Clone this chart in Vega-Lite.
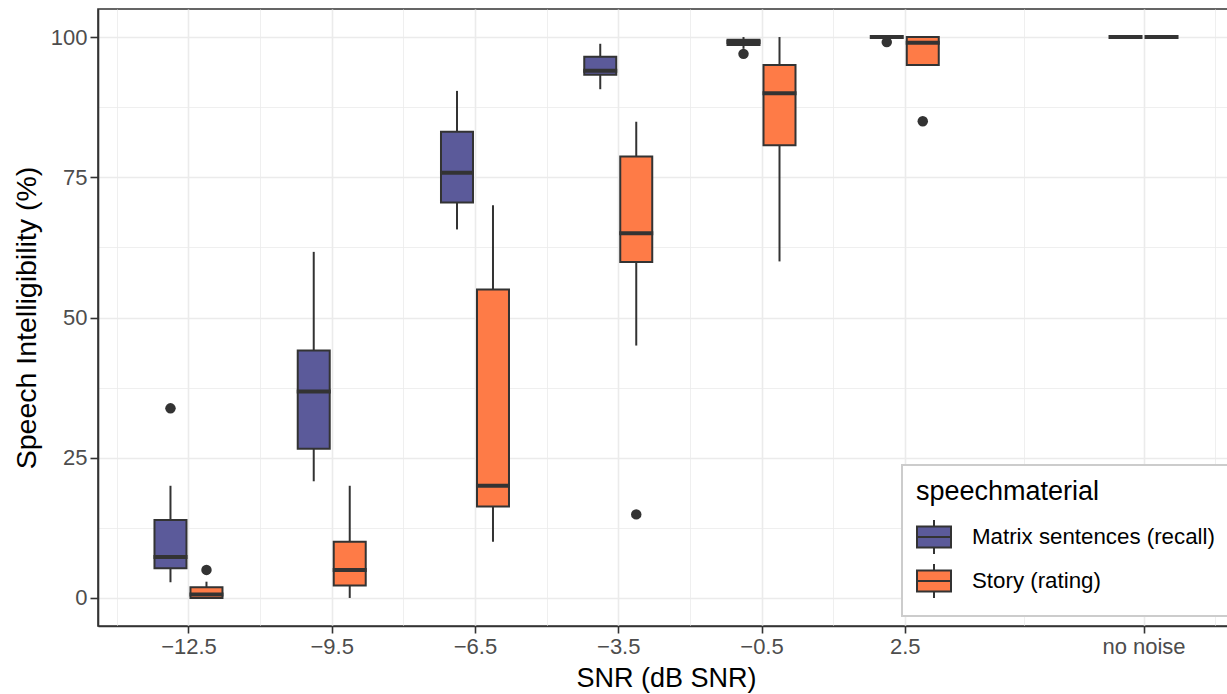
{
  "$schema": "https://vega.github.io/schema/vega-lite/v6.json",
  "width": 1136,
  "height": 617,
  "autosize": {"type": "none"},
  "padding": {"left": 98, "top": 9, "right": -7, "bottom": 68},
  "background": "white",
  "config": {
    "font": "Liberation Sans",
    "view": {"stroke": "#333333", "strokeWidth": 1.6},
    "axis": {
      "gridColor": "#EBEBEB",
      "tickColor": "#333333",
      "tickWidth": 1.6,
      "labelFontSize": 22,
      "labelColor": "#4D4D4D",
      "titleFontSize": 27,
      "titleFontWeight": "normal",
      "titleColor": "black",
      "domainColor": "#333333",
      "domainWidth": 1.6
    }
  },
  "datasets": {
    "boxes": [
      {"snr": -12.5, "speechmaterial": "Matrix sentences (recall)", "lower": 2.8, "q1": 5.3, "median": 7.3, "q3": 13.9, "upper": 20},
      {"snr": -12.5, "speechmaterial": "Story (rating)", "lower": 0, "q1": 0, "median": 0.6, "q3": 1.9, "upper": 2.9},
      {"snr": -9.5, "speechmaterial": "Matrix sentences (recall)", "lower": 20.8, "q1": 26.6, "median": 36.8, "q3": 44.1, "upper": 61.7},
      {"snr": -9.5, "speechmaterial": "Story (rating)", "lower": 0, "q1": 2.2, "median": 5, "q3": 10, "upper": 20},
      {"snr": -6.5, "speechmaterial": "Matrix sentences (recall)", "lower": 65.7, "q1": 70.5, "median": 75.8, "q3": 83.1, "upper": 90.4},
      {"snr": -6.5, "speechmaterial": "Story (rating)", "lower": 10, "q1": 16.3, "median": 20, "q3": 55, "upper": 70},
      {"snr": -3.5, "speechmaterial": "Matrix sentences (recall)", "lower": 90.7, "q1": 93.3, "median": 94, "q3": 96.5, "upper": 98.8},
      {"snr": -3.5, "speechmaterial": "Story (rating)", "lower": 45, "q1": 59.9, "median": 65, "q3": 78.7, "upper": 84.9},
      {"snr": -0.5, "speechmaterial": "Matrix sentences (recall)", "lower": 97.9, "q1": 98.6, "median": 99.1, "q3": 99.5, "upper": 100},
      {"snr": -0.5, "speechmaterial": "Story (rating)", "lower": 60, "q1": 80.7, "median": 90, "q3": 95, "upper": 100},
      {"snr": 2.5, "speechmaterial": "Matrix sentences (recall)", "lower": 100, "q1": 100, "median": 100, "q3": 100, "upper": 100},
      {"snr": 2.5, "speechmaterial": "Story (rating)", "lower": 95, "q1": 95, "median": 99, "q3": 100, "upper": 100},
      {"snr": 7.5, "speechmaterial": "Matrix sentences (recall)", "lower": 100, "q1": 100, "median": 100, "q3": 100, "upper": 100},
      {"snr": 7.5, "speechmaterial": "Story (rating)", "lower": 100, "q1": 100, "median": 100, "q3": 100, "upper": 100}
    ],
    "outliers": [
      {"snr": -12.5, "speechmaterial": "Matrix sentences (recall)", "value": 33.8},
      {"snr": -12.5, "speechmaterial": "Story (rating)", "value": 5},
      {"snr": -3.5, "speechmaterial": "Story (rating)", "value": 14.9},
      {"snr": -0.5, "speechmaterial": "Matrix sentences (recall)", "value": 97},
      {"snr": 2.5, "speechmaterial": "Matrix sentences (recall)", "value": 99.1},
      {"snr": 2.5, "speechmaterial": "Story (rating)", "value": 85}
    ]
  },
  "layer": [
    {
      "data": {"name": "boxes"},
      "transform": [{"filter": "datum.speechmaterial === 'Matrix sentences (recall)'"}],
      "layer": [
        {
          "mark": {"type": "rule", "color": "#333333", "strokeWidth": 2, "xOffset": -18},
          "encoding": {
            "x": {
              "field": "snr", "type": "quantitative",
              "scale": {"domain": [-14.29, 9.29], "nice": false, "zero": false},
              "axis": {
                "title": "SNR (dB SNR)",
                "values": [-14, -12.5, -11, -9.5, -8, -6.5, -5, -3.5, -2, -0.5, 1, 2.5, 5, 7.5, 9],
                "labelExpr": "datum.value === 7.5 ? 'no noise' : (indexof([-12.5,-9.5,-6.5,-3.5,-0.5,2.5], datum.value) >= 0 ? format(datum.value, '.1f') : '')",
                "gridWidth": {"condition": {"test": "indexof([-12.5,-9.5,-6.5,-3.5,-0.5,2.5,7.5], datum.value) >= 0", "value": 1.6}, "value": 0.8},
                "tickOpacity": {"condition": {"test": "indexof([-12.5,-9.5,-6.5,-3.5,-0.5,2.5,7.5], datum.value) >= 0", "value": 1}, "value": 0},
                "tickSize": 7,
                "labelPadding": 3,
                "titlePadding": 8
              }
            },
            "y": {
              "field": "lower", "type": "quantitative",
              "scale": {"domain": [-5, 105], "nice": false, "zero": false},
              "axis": {
                "title": "Speech Intelligibility (%)",
                "titleFontSize": 28.5,
                "values": [0, 12.5, 25, 37.5, 50, 62.5, 75, 87.5, 100],
                "labelExpr": "datum.value % 25 === 0 ? format(datum.value, 'd') : ''",
                "gridWidth": {"condition": {"test": "datum.value % 25 === 0", "value": 1.6}, "value": 0.8},
                "tickOpacity": {"condition": {"test": "datum.value % 25 === 0", "value": 1}, "value": 0},
                "tickSize": 8,
                "labelPadding": 3,
                "titlePadding": 9
              }
            },
            "y2": {"field": "upper"}
          }
        },
        {
          "mark": {"type": "bar", "orient": "vertical", "width": 32, "stroke": "#333333", "strokeWidth": 2, "opacity": 1, "xOffset": -18},
          "encoding": {
            "x": {"field": "snr", "type": "quantitative"},
            "y": {"field": "q1", "type": "quantitative"},
            "y2": {"field": "q3"},
            "fill": {
              "field": "speechmaterial", "type": "nominal",
              "scale": {"domain": ["Matrix sentences (recall)", "Story (rating)"], "range": ["#5B5A9A", "#FE7B47"]},
              "legend": {
                "title": "speechmaterial",
                "orient": "none",
                "legendX": 804,
                "legendY": 456,
                "padding": 14,
                "strokeColor": "#CCCCCC",
                "fillColor": "white",
                "cornerRadius": 0,
                "titleFontSize": 27,
                "titleFontWeight": "normal",
                "titleColor": "black",
                "titleLimit": 400,
                "titlePadding": 13,
                "labelFontSize": 22.3,
                "labelColor": "black",
                "labelLimit": 400,
                "labelOffset": 20,
                "rowPadding": 2,
                "symbolType": "M-1,-0.62H1V0.62H-1Z M-1,0H1 M0,-0.62V-1 M0,0.62V1",
                "symbolSize": 1156,
                "symbolStrokeColor": "#333333",
                "symbolStrokeWidth": 2,
                "symbolOpacity": 1,
                "encode": {"legend": {"update": {"strokeWidth": {"value": 2}, "width": {"value": 345}}}}
              }
            }
          }
        },
        {
          "mark": {"type": "tick", "orient": "horizontal", "size": 34, "thickness": 4, "color": "#333333", "opacity": 1, "xOffset": -18},
          "encoding": {
            "x": {"field": "snr", "type": "quantitative"},
            "y": {"field": "median", "type": "quantitative"}
          }
        }
      ]
    },
    {
      "data": {"name": "boxes"},
      "transform": [{"filter": "datum.speechmaterial === 'Story (rating)'"}],
      "layer": [
        {
          "mark": {"type": "rule", "color": "#333333", "strokeWidth": 2, "xOffset": 18},
          "encoding": {
            "x": {"field": "snr", "type": "quantitative"},
            "y": {"field": "lower", "type": "quantitative"},
            "y2": {"field": "upper"}
          }
        },
        {
          "mark": {"type": "bar", "orient": "vertical", "width": 32, "stroke": "#333333", "strokeWidth": 2, "opacity": 1, "xOffset": 18},
          "encoding": {
            "x": {"field": "snr", "type": "quantitative"},
            "y": {"field": "q1", "type": "quantitative"},
            "y2": {"field": "q3"},
            "fill": {"field": "speechmaterial", "type": "nominal"}
          }
        },
        {
          "mark": {"type": "tick", "orient": "horizontal", "size": 34, "thickness": 4, "color": "#333333", "opacity": 1, "xOffset": 18},
          "encoding": {
            "x": {"field": "snr", "type": "quantitative"},
            "y": {"field": "median", "type": "quantitative"}
          }
        }
      ]
    },
    {
      "data": {"name": "outliers"},
      "transform": [{"filter": "datum.speechmaterial === 'Matrix sentences (recall)'"}],
      "mark": {"type": "point", "filled": true, "color": "#333333", "size": 110, "opacity": 1, "xOffset": -18},
      "encoding": {
        "x": {"field": "snr", "type": "quantitative"},
        "y": {"field": "value", "type": "quantitative"}
      }
    },
    {
      "data": {"name": "outliers"},
      "transform": [{"filter": "datum.speechmaterial === 'Story (rating)'"}],
      "mark": {"type": "point", "filled": true, "color": "#333333", "size": 110, "opacity": 1, "xOffset": 18},
      "encoding": {
        "x": {"field": "snr", "type": "quantitative"},
        "y": {"field": "value", "type": "quantitative"}
      }
    }
  ]
}
